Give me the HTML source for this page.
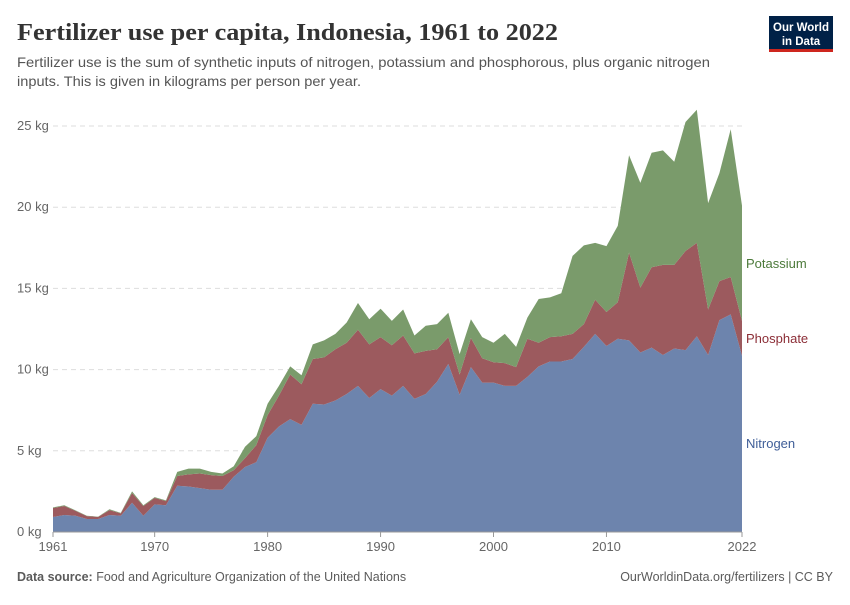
<!DOCTYPE html>
<html><head><meta charset="utf-8"><style>
body{margin:0;background:#fff;font-family:"Liberation Sans",sans-serif;}
</style></head><body>
<svg width="850" height="600" xmlns="http://www.w3.org/2000/svg">
<text x="17" y="40" font-family="Liberation Serif,serif" font-weight="bold" font-size="24" fill="#333" textLength="541" lengthAdjust="spacingAndGlyphs">Fertilizer use per capita, Indonesia, 1961 to 2022</text>
<text x="17" y="67" font-size="14" fill="#555" textLength="693" lengthAdjust="spacingAndGlyphs">Fertilizer use is the sum of synthetic inputs of nitrogen, potassium and phosphorous, plus organic nitrogen</text>
<text x="17" y="86" font-size="14" fill="#555" textLength="344" lengthAdjust="spacingAndGlyphs">inputs. This is given in kilograms per person per year.</text>
<g>
<rect x="769" y="16" width="64" height="34" fill="#002147"/>
<rect x="769" y="49" width="64" height="3" fill="#ce261e"/>
<text x="801" y="31" font-size="11.5" font-weight="bold" fill="#fff" text-anchor="middle" textLength="56" lengthAdjust="spacingAndGlyphs">Our World</text>
<text x="801" y="45" font-size="11.5" font-weight="bold" fill="#fff" text-anchor="middle">in Data</text>
</g>
<g id="grid"></g>
<g id="areas"></g>
<g id="axes"></g>
<text x="746" y="268" font-size="13" fill="#4c7a3a">Potassium</text>
<text x="746" y="343" font-size="13" fill="#8c2e37">Phosphate</text>
<text x="746" y="448" font-size="13" fill="#3f5e98">Nitrogen</text>
<text x="17" y="581" font-size="12.5" fill="#5b5b5b"><tspan font-weight="bold">Data source:</tspan> Food and Agriculture Organization of the United Nations</text>
<text x="833" y="581" font-size="12.5" fill="#5b5b5b" text-anchor="end">OurWorldinData.org/fertilizers | CC BY</text>
</svg>
<script>
const years=[];for(let y=1961;y<=2022;y++)years.push(y);
const nitrogen=[0.92,1.05,1.0,0.8,0.8,1.05,1.0,1.8,1.0,1.7,1.65,2.85,2.8,2.7,2.6,2.6,3.4,4.0,4.3,5.8,6.5,6.95,6.6,7.9,7.85,8.1,8.5,9.0,8.25,8.8,8.4,9.0,8.2,8.5,9.25,10.35,8.45,10.15,9.2,9.2,9.0,9.0,9.55,10.2,10.5,10.5,10.65,11.4,12.2,11.45,11.9,11.8,11.05,11.35,10.9,11.3,11.2,12.05,10.9,13.05,13.4,10.85];
const nitroPhosTop=[1.48,1.6,1.3,0.98,0.93,1.35,1.15,2.4,1.6,2.1,1.9,3.45,3.55,3.6,3.5,3.45,3.8,4.55,5.35,7.2,8.4,9.7,9.1,10.65,10.75,11.25,11.65,12.45,11.55,12.0,11.5,12.1,11.0,11.15,11.25,12.0,9.7,11.95,10.7,10.45,10.4,10.15,11.9,11.65,12.0,12.05,12.2,12.8,14.3,13.55,14.15,17.2,15.05,16.3,16.45,16.45,17.3,17.8,13.7,15.45,15.7,13.0];
const totalTop=[1.52,1.65,1.33,1.0,0.95,1.4,1.18,2.5,1.65,2.15,1.95,3.7,3.9,3.9,3.7,3.6,4.05,5.25,5.9,7.9,9.0,10.2,9.65,11.55,11.8,12.2,12.9,14.1,13.1,13.75,13.0,13.7,12.1,12.7,12.8,13.5,10.95,13.1,12.0,11.65,12.2,11.4,13.2,14.35,14.45,14.7,17.0,17.65,17.8,17.6,18.85,23.2,21.5,23.35,23.5,22.8,25.25,26.0,20.25,22.1,24.8,20.1];
const phosphate=nitroPhosTop.map((v,i)=>v-nitrogen[i]);
const potassium=totalTop.map((v,i)=>v-nitroPhosTop[i]);
const yTicks=[0,5,10,15,20,25];
const xTicks=[1961,1970,1980,1990,2000,2010,2022];
const NS="http://www.w3.org/2000/svg";
const X=y=>53+(y-1961)*(742-53)/61;
const Y=v=>532-v*16.24;
function mk(t,a,p){const e=document.createElementNS(NS,t);for(const k in a)e.setAttribute(k,a[k]);p.appendChild(e);return e;}
const grid=document.getElementById('grid'),axes=document.getElementById('axes'),areas=document.getElementById('areas');
yTicks.forEach(v=>{
 if(v>0){const l=mk('line',{x1:53,x2:742,y1:Y(v),y2:Y(v),stroke:'#ddd','stroke-dasharray':'5,4'},grid);
 
 }
 const t=mk('text',{x:17,y:Y(v)+4,'font-size':13,fill:'#666'},axes);t.textContent=v+' kg';
 
 
});
const stacks=[[nitrogen.map(()=>0),nitrogen,'#6d84ad','nitrogen-area'],[nitrogen,nitroPhosTop,'#9c5a5e','phosphate-area'],[nitroPhosTop,totalTop,'#7a9b6b','potassium-area']];
stacks.forEach(([lo,hi,c,n])=>{
 let d='';years.forEach((y,i)=>{d+=(i?'L':'M')+X(y)+','+Y(hi[i]);});
 for(let i=years.length-1;i>=0;i--)d+='L'+X(years[i])+','+Y(lo[i]);
 const p=mk('path',{d:d+'Z',fill:c},areas);
 
 
});
const ax=mk('line',{x1:53,x2:742,y1:532,y2:532,stroke:'#999'},axes);


xTicks.forEach(y=>{
 mk('line',{x1:X(y),x2:X(y),y1:532,y2:537,stroke:'#999'},axes);
 const t=mk('text',{x:X(y),y:551,'font-size':13,fill:'#666','text-anchor':'middle'},axes);t.textContent=y;
 
 
});
</script>
</body></html>
